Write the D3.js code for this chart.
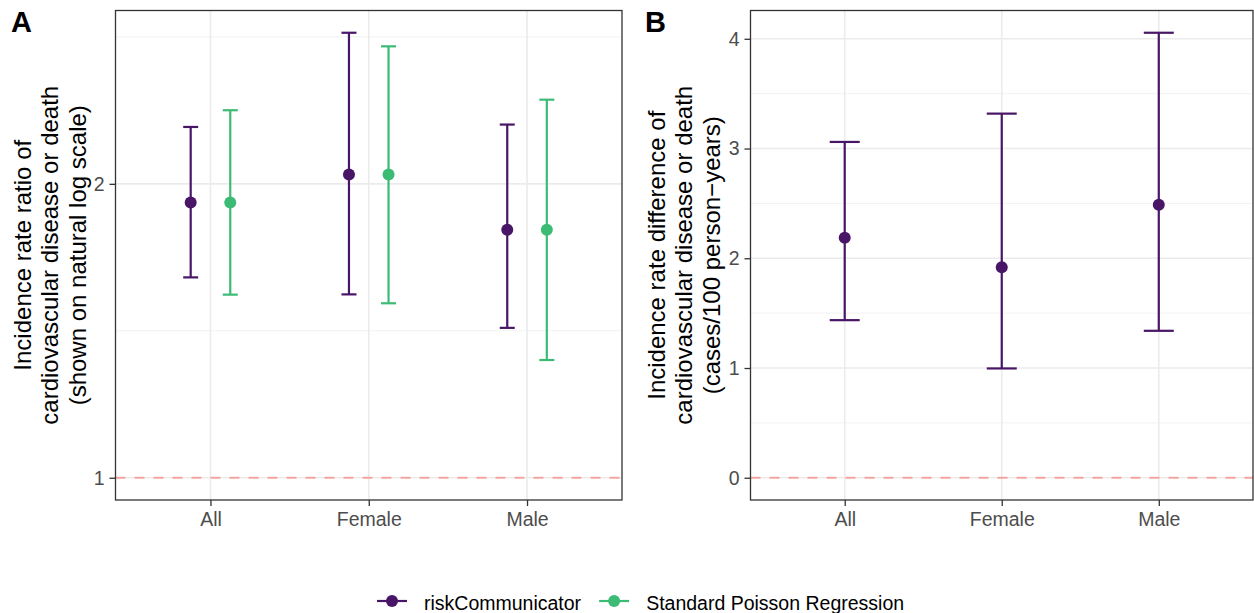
<!DOCTYPE html>
<html>
<head>
<meta charset="utf-8">
<script src="https://cdn.jsdelivr.net/npm/d3@7"></script>
<style>
  body { margin: 0; background: #fff; }
  svg { font-family: "Liberation Sans", Arial, sans-serif; display: block; }
</style>
</head>
<body>
<svg id="chart" width="1254" height="613"></svg>
<script>
// Data
const categories = ['All', 'Female', 'Male'];
const seriesNames = ['riskCommunicator', 'Standard Poisson Regression'];
const seriesColors = ['#481567', '#3CBB75'];

// Panel A: incidence rate ratio (log scale)
const irrRC = [1.914, 2.044, 1.795];
const irrRCLow = [1.604, 1.541, 1.424];
const irrRCHigh = [2.287, 2.856, 2.300];
const irrPois = [1.914, 2.044, 1.795];
const irrPoisLow = [1.540, 1.509, 1.320];
const irrPoisHigh = [2.379, 2.766, 2.439];

// Panel B: incidence rate difference (riskCommunicator only)
const irdRC = [2.187, 1.918, 2.487];
const irdRCLow = [1.436, 0.996, 1.339];
const irdRCHigh = [3.060, 3.318, 4.055];

const yTicksA = [1, 2];
const yMinorA = [Math.SQRT2, 2 * Math.SQRT2];
const yTicksB = [0, 1, 2, 3, 4];
const yMinorB = [0.5, 1.5, 2.5, 3.5];

const svg = d3.select('#chart');

function drawPanel(opts) {
    const { x0, x1, y0, y1, yScale, ticks, minor, series, refValue, titleLines, titleX, label, labelX } = opts;
    const g = svg.append('g');

    const xScale = d3.scalePoint()
        .domain(categories)
        .range([x0, x1])
        .padding(0.6);
    const step = xScale.step();

    yScale.range([y1, y0]);

    // Minor grid
    g.selectAll('.minor')
        .data(minor)
        .enter()
        .append('line')
        .attr('x1', x0).attr('x2', x1)
        .attr('y1', d => yScale(d)).attr('y2', d => yScale(d))
        .attr('stroke', '#F2F2F2')
        .attr('stroke-width', 1);

    // Major grid
    g.selectAll('.major')
        .data(ticks)
        .enter()
        .append('line')
        .attr('x1', x0).attr('x2', x1)
        .attr('y1', d => yScale(d)).attr('y2', d => yScale(d))
        .attr('stroke', '#EBEBEB')
        .attr('stroke-width', 1.6);

    g.selectAll('.vgrid')
        .data(categories)
        .enter()
        .append('line')
        .attr('x1', d => xScale(d)).attr('x2', d => xScale(d))
        .attr('y1', y0).attr('y2', y1)
        .attr('stroke', '#EBEBEB')
        .attr('stroke-width', 1.6);

    // Reference line
    g.append('line')
        .attr('x1', x0).attr('x2', x1)
        .attr('y1', yScale(refValue)).attr('y2', yScale(refValue))
        .attr('stroke', '#F8766D')
        .attr('stroke-opacity', 0.6)
        .attr('stroke-width', 1.8)
        .attr('stroke-dasharray', '10,9');

    // Error bars and points
    series.forEach((s, i) => {
        const off = series.length > 1 ? (i === 0 ? -1 : 1) * step * 0.125 : 0;
        const rows = categories.map((c, j) => ({ c, v: s.est[j], lo: s.low[j], hi: s.high[j] }));
        const sg = g.append('g');
        const cap = opts.capHalf;
        rows.forEach(r => {
            const cx = xScale(r.c) + off;
            sg.append('line')
                .attr('x1', cx).attr('x2', cx)
                .attr('y1', yScale(r.lo)).attr('y2', yScale(r.hi))
                .attr('stroke', s.color).attr('stroke-width', 2.2);
            [r.lo, r.hi].forEach(v => {
                sg.append('line')
                    .attr('x1', cx - cap).attr('x2', cx + cap)
                    .attr('y1', yScale(v)).attr('y2', yScale(v))
                    .attr('stroke', s.color).attr('stroke-width', 2.2);
            });
            sg.append('circle')
                .attr('cx', cx).attr('cy', yScale(r.v))
                .attr('r', 6)
                .attr('fill', s.color);
        });
    });

    // Border
    g.append('rect')
        .attr('x', x0).attr('y', y0)
        .attr('width', x1 - x0).attr('height', y1 - y0)
        .attr('fill', 'none')
        .attr('stroke', '#333333')
        .attr('stroke-width', 1.3);

    // Y axis
    const yAxis = g.append('g')
        .attr('transform', `translate(${x0},0)`)
        .call(d3.axisLeft(yScale).tickValues(ticks).tickSize(6).tickPadding(5).tickFormat(d3.format('d')));
    yAxis.select('.domain').remove();
    yAxis.selectAll('line').attr('stroke', '#333333').attr('stroke-width', 1.3);
    yAxis.selectAll('text')
        .attr('fill', '#4D4D4D')
        .style('font-size', '19.5px');

    // X axis
    const xAxis = g.append('g')
        .attr('transform', `translate(0,${y1})`)
        .call(d3.axisBottom(xScale).tickSize(6).tickPadding(6));
    xAxis.select('.domain').remove();
    xAxis.selectAll('line').attr('stroke', '#333333').attr('stroke-width', 1.3);
    xAxis.selectAll('text')
        .attr('fill', '#4D4D4D')
        .style('font-size', '19.5px');

    // Axis title
    const yc = (y0 + y1) / 2;
    titleLines.forEach((t, k) => {
        g.append('text')
            .attr('transform', `translate(${titleX + k * 27.5},${yc}) rotate(-90)`)
            .attr('text-anchor', 'middle')
            .attr('dominant-baseline', 'central')
            .style('font-size', '24px')
            .attr('fill', '#000')
            .text(t);
    });

    // Panel tag
    g.append('text')
        .attr('x', labelX).attr('y', 32)
        .style('font-size', '29px')
        .style('font-weight', 'bold')
        .attr('fill', '#000')
        .text(label);
}

// Panel A limits (log scale, 5% expansion in log space)
const hiA = Math.log(d3.max(irrRCHigh.concat(irrPoisHigh)));
const loA = Math.log(1);
const padA = (hiA - loA) * 0.05;
const yA = d3.scaleLog().domain([Math.exp(loA - padA), Math.exp(hiA + padA)]);

drawPanel({
    x0: 115.5, x1: 622, y0: 10.5, y1: 500,
    yScale: yA, ticks: yTicksA, minor: yMinorA, refValue: 1,
    capHalf: 7.5,
    series: [
        { est: irrRC, low: irrRCLow, high: irrRCHigh, color: seriesColors[0] },
        { est: irrPois, low: irrPoisLow, high: irrPoisHigh, color: seriesColors[1] }
    ],
    titleLines: ['Incidence rate ratio of', 'cardiovascular disease or death', '(shown on natural log scale)'],
    titleX: 22, label: 'A', labelX: 11
});

// Panel B limits (linear, 5% expansion)
const hiB = d3.max(irdRCHigh);
const padB = (hiB - 0) * 0.05;
const yB = d3.scaleLinear().domain([0 - padB, hiB + padB]);

drawPanel({
    x0: 750.5, x1: 1253, y0: 10.5, y1: 500,
    yScale: yB, ticks: yTicksB, minor: yMinorB, refValue: 0,
    capHalf: 15,
    series: [
        { est: irdRC, low: irdRCLow, high: irdRCHigh, color: seriesColors[0] }
    ],
    titleLines: ['Incidence rate difference of', 'cardiovascular disease or death', '(cases/100 person\u2212years)'],
    titleX: 656, label: 'B', labelX: 645
});

// Legend
const legend = svg.append('g').attr('transform', 'translate(0,601)');
let lx = 377;
seriesNames.forEach((name, i) => {
    legend.append('line')
        .attr('x1', lx).attr('x2', lx + 30)
        .attr('y1', 0).attr('y2', 0)
        .attr('stroke', seriesColors[i]).attr('stroke-width', 2.2);
    legend.append('circle')
        .attr('cx', lx + 15).attr('cy', 0).attr('r', 6)
        .attr('fill', seriesColors[i]);
    const t = legend.append('text')
        .attr('x', lx + 47).attr('y', 8.5)
        .style('font-size', '19.5px')
        .attr('fill', '#000')
        .text(name);
    lx = lx + 47 + t.node().getComputedTextLength() + 18;
});
</script>
</body>
</html>
